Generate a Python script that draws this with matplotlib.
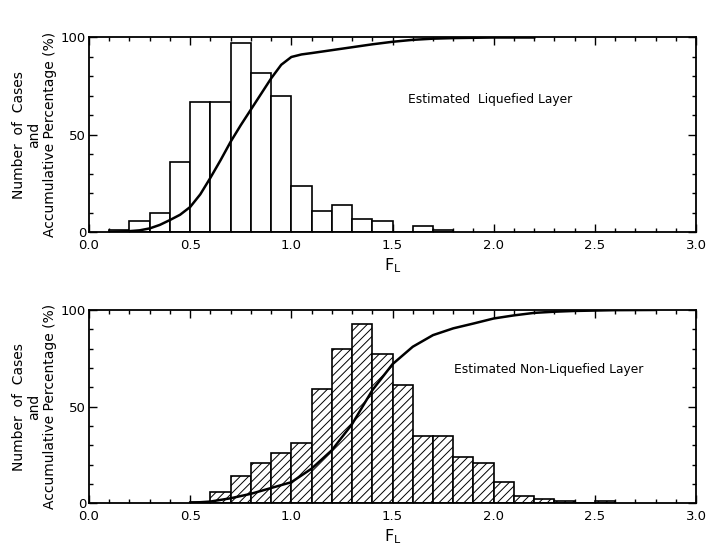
import matplotlib
matplotlib.use("Agg")
import matplotlib.pyplot as plt
import numpy as np
from matplotlib.ticker import MultipleLocator

plt.rcParams['font.family'] = ['DejaVu Sans']
plt.rcParams['hatch.linewidth'] = 0.7

# bin edges (F_L) shared by both histograms
bin_width = 0.1

# liquefied layer: left bin edges and counts
liq_left = [0.1, 0.2, 0.3, 0.4, 0.5, 0.6, 0.7, 0.8, 0.9, 1.0, 1.1, 1.2,
            1.3, 1.4, 1.5, 1.6, 1.7]
liq_count = [1, 6, 10, 36, 67, 67, 97, 82, 70, 24, 11, 14, 7, 6, 0, 3, 1]

# cumulative curve, liquefied
liq_cum_x = [0.1, 0.2, 0.25, 0.3, 0.35, 0.4, 0.45, 0.5, 0.55, 0.6, 0.65, 0.7,
             0.75, 0.8, 0.85, 0.9, 0.95, 1.0, 1.05, 1.1, 1.2, 1.3, 1.4, 1.5,
             1.6, 1.7, 1.8, 2.0, 2.2]
liq_cum_y = [0.2, 0.6, 1.0, 2.0, 3.8, 6.3, 9.0, 13.0, 19.5, 28.0, 37.0, 46.5,
             55.0, 63.0, 71.0, 79.0, 86.0, 90.0, 91.3, 92.0, 93.5, 95.0,
             96.5, 97.8, 98.8, 99.4, 99.7, 100.0, 100.0]

# non-liquefied layer
non_left = [0.5, 0.6, 0.7, 0.8, 0.9, 1.0, 1.1, 1.2, 1.3, 1.4, 1.5, 1.6, 1.7,
            1.8, 1.9, 2.0, 2.1, 2.2, 2.3, 2.4, 2.5]
non_count = [1, 6, 14, 21, 26, 31, 59, 80, 93, 77, 61, 35, 35, 24, 21, 11,
             4, 2.5, 1.5, 0, 1.2]

non_cum_x = [0.5, 0.6, 0.7, 0.8, 0.9, 1.0, 1.1, 1.2, 1.3, 1.4, 1.5, 1.6,
             1.7, 1.8, 1.9, 2.0, 2.1, 2.2, 2.3, 2.4, 2.6, 2.8]
non_cum_y = [0.3, 1.0, 2.7, 5.0, 8.0, 11.0, 18.0, 27.5, 41.0, 58.5, 72.0,
             81.0, 87.0, 90.5, 93.0, 95.6, 97.2, 98.5, 99.1, 99.5, 99.9, 100.0]

panels = [
    (liq_left, liq_count, liq_cum_x, liq_cum_y, None,
     "Estimated  Liquefied Layer", (1.98, 68)),
    (non_left, non_count, non_cum_x, non_cum_y, "////",
     "Estimated Non-Liquefied Layer", (2.27, 69)),
]

fig = plt.figure(figsize=(7.07, 5.58), dpi=100)
positions = [[0.1259, 0.5837, 0.8586, 0.3491],
             [0.1259, 0.0977, 0.8586, 0.3468]]

for pos, (left, count, cx, cy, hatch, label, lpos) in zip(positions, panels):
    ax = fig.add_axes(pos)
    ax.bar(left, count, width=bin_width, align="edge", facecolor="white",
           edgecolor="black", linewidth=1.2, hatch=hatch, zorder=2)
    ax.plot(cx, cy, color="black", linewidth=1.8, zorder=3)
    ax.text(lpos[0], lpos[1], label, ha="center", va="center", fontsize=8.8)

    ax.set_xlim(0, 3.0)
    ax.set_ylim(0, 100)
    ax.xaxis.set_major_locator(MultipleLocator(0.5))
    ax.xaxis.set_minor_locator(MultipleLocator(0.1))
    ax.yaxis.set_major_locator(MultipleLocator(50))
    ax.yaxis.set_minor_locator(MultipleLocator(10))
    ax.set_xticks(np.arange(0, 3.01, 0.5))
    ax.set_xticklabels([f"{v:.1f}" for v in np.arange(0, 3.01, 0.5)])
    ax.tick_params(which="both", direction="in", top=True, right=True,
                   labelsize=9.5, width=1.0)
    ax.tick_params(which="major", length=6)
    ax.tick_params(axis="x", which="major", pad=5)
    ax.tick_params(axis="y", which="major", pad=2)
    ax.tick_params(which="minor", length=3)
    for s in ax.spines.values():
        s.set_linewidth(1.3)

    ax.set_xlabel(r"F$_\mathregular{L}$", fontsize=11.5, labelpad=3)
    ax.set_ylabel("Number  of  Cases\nand\nAccumulative Percentage (%)",
                  fontsize=10, linespacing=1.15, labelpad=3)

fig.savefig("out.png", dpi=100)
